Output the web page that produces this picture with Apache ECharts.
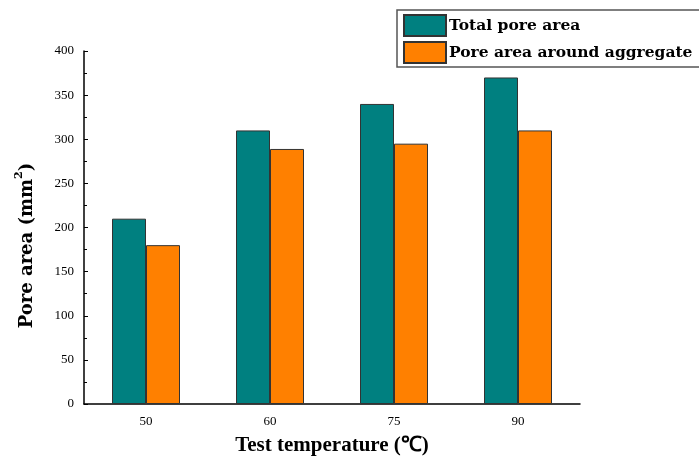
<!DOCTYPE html>
<html>
<head>
<meta charset="utf-8">
<script src="https://cdn.jsdelivr.net/npm/echarts@6/dist/echarts.min.js"></script>
<style>
  html, body { margin: 0; padding: 0; background: #fff; }
  #chart { width: 699px; height: 459px; }
</style>
</head>
<body>
<div id="chart"></div>
<script>
// Test temperatures (°C) and measured pore areas (mm²)
const categories = ['50', '60', '75', '90'];
const totalPoreArea = [210, 310, 340, 370];
const poreAreaAroundAggregate = [180, 289, 295, 310];
const yTicks = { min: 0, max: 400, interval: 50 };

const serif = '"Liberation Serif", "Times New Roman", serif';
const wideSerif = '"DejaVu Serif", serif';

const chart = echarts.init(document.getElementById('chart'));
chart.setOption({
  animation: false,
  backgroundColor: '#ffffff',
  grid: { left: 84, right: 119, top: 51, bottom: 55, containLabel: false, outerBoundsMode: 'none' },
  legend: {
    orient: 'vertical',
    left: 397,
    top: 10,
    icon: 'rect',
    itemWidth: 42,
    itemHeight: 21,
    itemGap: 4,
    padding: [4, 10, 3, 6],
    borderColor: '#555',
    borderWidth: 1.5,
    textStyle: { fontFamily: wideSerif, fontWeight: 'bold', fontSize: 15.5, color: '#000', padding: [0, 0, 0, -2] },
    data: ['Total pore area', 'Pore area around aggregate']
  },
  xAxis: {
    type: 'category',
    data: categories,
    name: 'Test temperature (℃)',
    nameLocation: 'middle',
    nameGap: 31,
    nameTextStyle: { fontFamily: serif, fontWeight: 'bold', fontSize: 21, color: '#000' },
    axisLine: { lineStyle: { color: '#000', width: 1.5 } },
    axisTick: { inside: true, length: 4, lineStyle: { color: '#000' } },
    axisLabel: { fontFamily: serif, fontSize: 13, color: '#000', margin: 11 },
    splitLine: { show: false }
  },
  yAxis: {
    type: 'value',
    min: yTicks.min,
    max: yTicks.max,
    interval: yTicks.interval,
    name: 'Pore area (mm{sup|2})',
    nameLocation: 'middle',
    nameGap: 44,
    nameTextStyle: {
      fontFamily: wideSerif, fontWeight: 'bold', fontSize: 18, color: '#000',
      padding: [0, 36, 0, 0],
      rich: { sup: { fontFamily: wideSerif, fontWeight: 'bold', fontSize: 11, color: '#000', padding: [0, 0, 15, 0] } }
    },
    axisLine: { show: true, lineStyle: { color: '#000', width: 1.5 } },
    axisTick: { show: true, inside: true, length: 4, lineStyle: { color: '#000' } },
    minorTick: { show: true, splitNumber: 2, length: 3, lineStyle: { color: '#000' } },
    axisLabel: { fontFamily: serif, fontSize: 13, color: '#000', margin: 10 },
    splitLine: { show: false }
  },
  series: [
    {
      name: 'Total pore area',
      type: 'bar',
      data: totalPoreArea,
      barWidth: 34,
      barGap: '0%',
      itemStyle: { color: '#008080', borderColor: '#333', borderWidth: 1 }
    },
    {
      name: 'Pore area around aggregate',
      type: 'bar',
      data: poreAreaAroundAggregate,
      barWidth: 34,
      barGap: '0%',
      itemStyle: { color: '#ff8000', borderColor: '#333', borderWidth: 1 }
    }
  ]
});
</script>
</body>
</html>
